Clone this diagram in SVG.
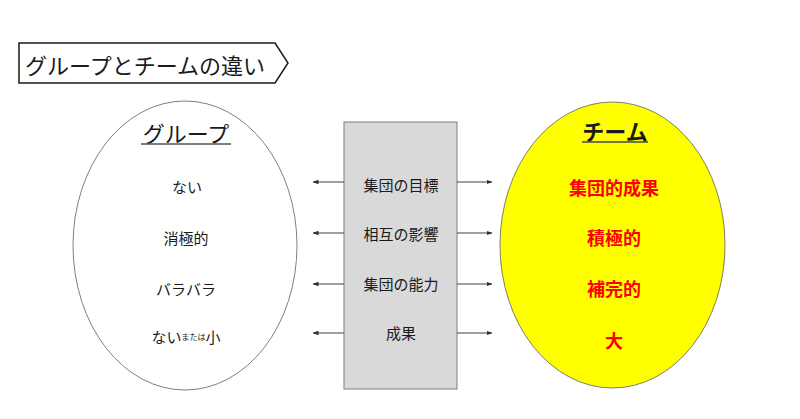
<svg xmlns="http://www.w3.org/2000/svg" width="800" height="419" viewBox="0 0 800 419">
<defs>
<marker id="ah" viewBox="0 0 6 6" refX="5.5" refY="3" markerWidth="6" markerHeight="6" markerUnits="userSpaceOnUse" orient="auto">
<path d="M0,0.8 L6,3 L0,5.2 Z" fill="#303030"/>
</marker>
<style>
text{font-family:"Noto Sans CJK JP","Noto Sans",sans-serif;text-anchor:middle;dominant-baseline:central}
.t{font-size:22px;fill:#1a1a1a}
.item{font-size:15px;fill:#1a1a1a}
.red{font-size:18px;font-weight:bold;fill:#ff0000}
.head{font-size:22px;fill:#1a1a1a}
.conn line{stroke:#404040;stroke-width:1;marker-end:url(#ah)}
</style>
</defs>
<rect width="800" height="419" fill="#ffffff"/>
<g id="title">
<path d="M19,43 L275,43 L288,63 L275,83 L19,83 Z" fill="#ffffff" stroke="#1a1a1a" stroke-width="1.5"/>
<text class="t" x="145" y="64">グループとチームの違い</text>
</g>
<g id="group">
<ellipse cx="185" cy="245.5" rx="112" ry="144.5" fill="#ffffff" stroke="#808080" stroke-width="1"/>
<text class="head" x="186" y="132">グループ</text>
<line x1="141" y1="144" x2="231" y2="144" stroke="#555555" stroke-width="1.5"/>
<text class="item" x="187" y="186">ない</text>
<text class="item" x="186" y="237">消極的</text>
<text class="item" x="186" y="288">バラバラ</text>
<text class="item" x="186" y="336">ない<tspan font-size="8">または</tspan>小</text>
</g>
<g id="center">
<rect x="344" y="122" width="113" height="267" fill="#d9d9d9" stroke="#7f7f7f" stroke-width="1"/>
<text class="item" x="401" y="184">集団の目標</text>
<text class="item" x="401" y="233">相互の影響</text>
<text class="item" x="401" y="283">集団の能力</text>
<text class="item" x="401" y="332">成果</text>
</g>
<g id="team">
<ellipse cx="612.5" cy="245" rx="112.5" ry="143" fill="#ffff00" stroke="#7f7f60" stroke-width="1"/>
<text class="head" x="615" y="130" font-weight="bold">チーム</text>
<line x1="582" y1="142" x2="648" y2="142" stroke="#444444" stroke-width="1.5"/>
<text class="red" x="614" y="187">集団的成果</text>
<text class="red" x="614" y="237">積極的</text>
<text class="red" x="614" y="288">補完的</text>
<text class="red" x="614" y="340">大</text>
</g>
<g id="connectors" class="conn">
<line x1="344" y1="182" x2="313" y2="182"/>
<line x1="457" y1="182" x2="492" y2="182"/>
<line x1="344" y1="233" x2="313" y2="233"/>
<line x1="457" y1="233" x2="492" y2="233"/>
<line x1="344" y1="284" x2="313" y2="284"/>
<line x1="457" y1="284" x2="492" y2="284"/>
<line x1="344" y1="333" x2="313" y2="333"/>
<line x1="457" y1="333" x2="492" y2="333"/>
</g>
</svg>
